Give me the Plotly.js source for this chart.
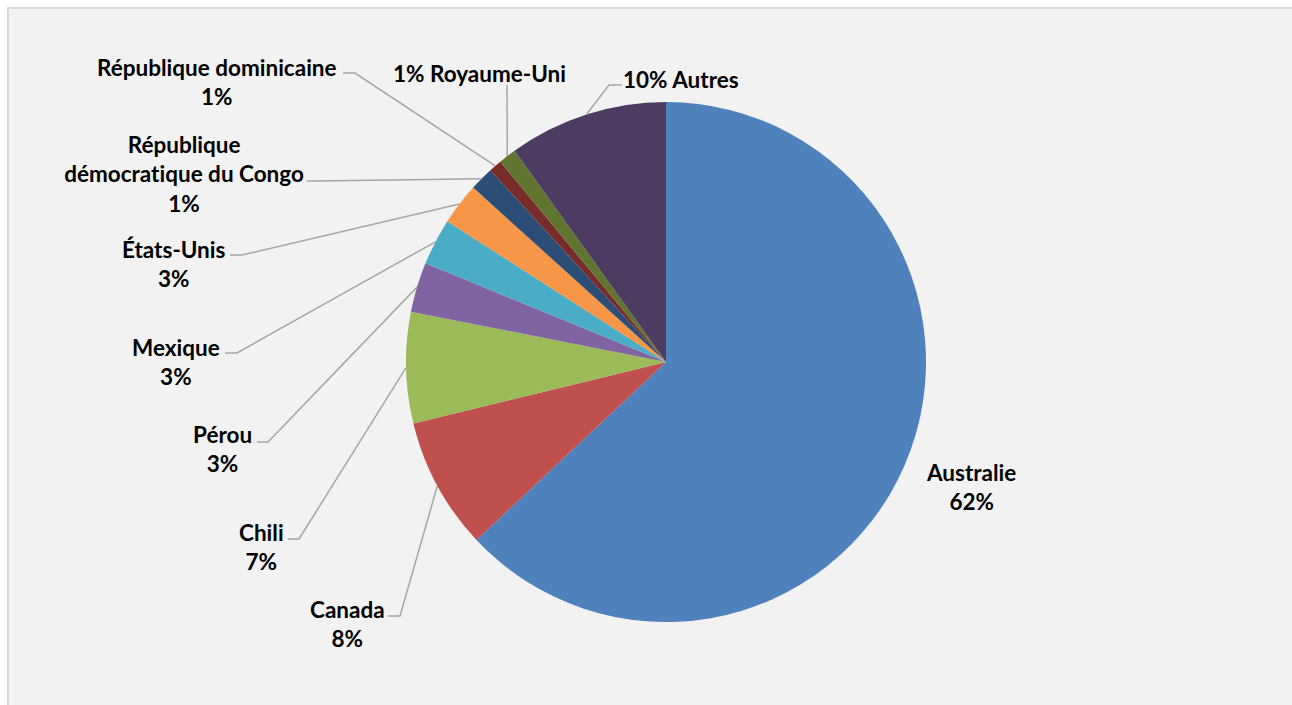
<!DOCTYPE html>
<html>
<head>
<meta charset="utf-8">
<script src="https://cdn.plot.ly/plotly-3.0.1.min.js"></script>
<style>
  html, body { margin: 0; padding: 0; background: #ffffff; }
  #chart { width: 1292px; height: 705px; }
  #chart text { font-variant-ligatures: none; font-feature-settings: "liga" 0; }
</style>
</head>
<body>
<div id="chart"></div>
<script>
// ---- data ----
const categories = ['Australie', 'Canada', 'Chili', 'Pérou', 'Mexique', 'États-Unis',
  'République démocratique du Congo', 'République dominicaine', 'Royaume-Uni', 'Autres'];
const shares = [63.0, 8.2, 6.9, 3.1, 2.9, 2.6, 1.5, 0.8, 1.1, 9.9];
const pctLabels = ['62%', '8%', '7%', '3%', '3%', '3%', '1%', '1%', '1%', '10%'];

// ---- styles / layout ----
const sliceColors = ['#4F81BD', '#C0504D', '#9BBB59', '#8064A2', '#4BACC6', '#F79646',
  '#2C4D75', '#772C2A', '#5F7530', '#4D3B62'];
const W = 1292, H = 705;
const CX = 666, CY = 362, R = 260;

// label placement (pixel centre of the text block, format, leader start points)
const labelPlacement = [
  { x: 971, y: 487, fmt: 'stack', leader: null },
  { x: 347, y: 624, fmt: 'stack', leader: [[388, 616], [400, 616]] },
  { x: 261, y: 547, fmt: 'stack', leader: [[288, 539], [299, 539]] },
  { x: 222, y: 449, fmt: 'stack', leader: [[257, 442], [268, 442]] },
  { x: 176, y: 362, fmt: 'stack', leader: [[225, 353], [237, 353]] },
  { x: 174, y: 264, fmt: 'stack', leader: [[230, 255], [242, 255]] },
  { x: 184, y: 174, fmt: 'rdc',   leader: [[307, 181], [318, 181]] },
  { x: 217, y: 82,  fmt: 'stack', leader: [[343, 73], [355, 73]] },
  { x: 479, y: 73,  fmt: 'inline', leader: [[507, 85]] },
  { x: 681, y: 79,  fmt: 'inline', leader: [[622, 85], [609, 85]] }
];

const px = v => v / W;
const py = v => 1 - v / H;

// leader anchors computed from the data (slice mid-angle on circumference)
const total = shares.reduce((a, b) => a + b, 0);
let cum = 0;
const anchors = shares.map(v => {
  const mid = (cum + v / 2) / total * 2 * Math.PI;
  cum += v;
  return [CX + R * Math.sin(mid), CY - R * Math.cos(mid)];
});

const annotations = [];
const shapes = [];

// chart frame
shapes.push({
  type: 'rect', xref: 'paper', yref: 'paper', layer: 'below',
  x0: px(8), x1: 1.02, y0: -0.02, y1: py(8),
  fillcolor: '#f2f2f2', line: { color: '#d9d9d9', width: 2 }
});

categories.forEach((name, i) => {
  const p = labelPlacement[i];
  let text;
  if (p.fmt === 'inline') {
    text = pctLabels[i] + ' ' + name;
  } else if (p.fmt === 'rdc') {
    text = name.replace(' démocratique', '<br>démocratique') + '<br>' + pctLabels[i];
  } else {
    text = name + '<br>' + pctLabels[i];
  }
  annotations.push({
    xref: 'paper', yref: 'paper', x: px(p.x), y: py(p.y),
    xanchor: 'center', yanchor: 'middle', align: 'center',
    showarrow: false, text: text,
    font: { family: 'Lato, "Open Sans", sans-serif', size: 22.5, color: '#000000', weight: 'bold' }
  });
  if (p.leader) {
    const pts = p.leader.concat([anchors[i]]);
    const d = pts.map((q, k) => (k === 0 ? 'M ' : 'L ') + px(q[0]) + ' ' + py(q[1])).join(' ');
    shapes.push({
      type: 'path', xref: 'paper', yref: 'paper', path: d,
      line: { color: '#a6a6a6', width: 1.5 }
    });
  }
});

const trace = {
  type: 'pie',
  labels: categories,
  values: shares,
  sort: false,
  direction: 'clockwise',
  rotation: 0,
  textinfo: 'none',
  hoverinfo: 'label+percent',
  showlegend: false,
  marker: { colors: sliceColors, line: { width: 0 } },
  domain: { x: [px(CX - R), px(CX + R)], y: [py(CY + R), py(CY - R)] }
};

const layout = {
  width: W, height: H,
  margin: { l: 0, r: 0, t: 0, b: 0 },
  paper_bgcolor: '#ffffff',
  showlegend: false,
  shapes: shapes,
  annotations: annotations
};

Plotly.newPlot('chart', [trace], layout, { displayModeBar: false, staticPlot: true });
</script>
</body>
</html>
